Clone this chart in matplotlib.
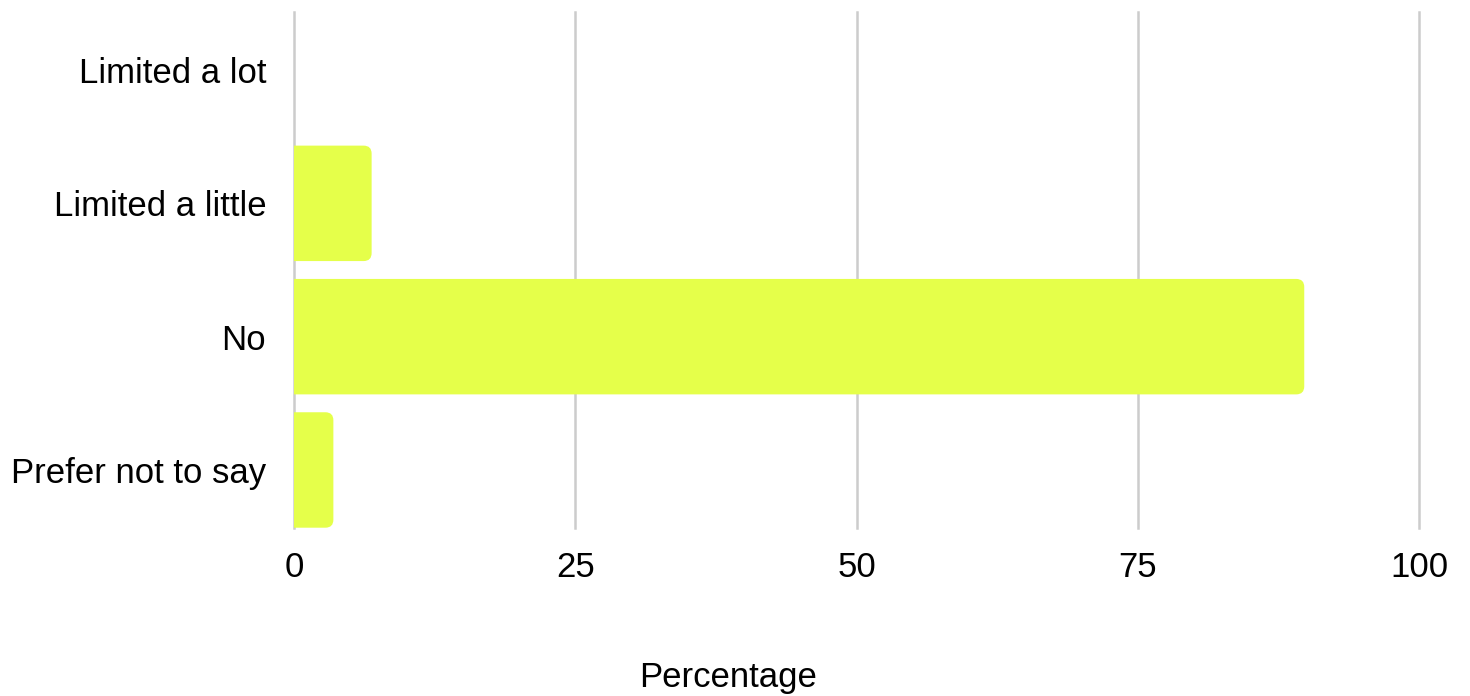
import matplotlib.pyplot as plt
from matplotlib.patches import FancyBboxPatch

plt.rcParams['font.family'] = ['Liberation Sans', 'DejaVu Sans']

categories = ['Limited a lot', 'Limited a little', 'No', 'Prefer not to say']
values = [0, 6.9, 89.8, 3.5]
ticks = [0, 25, 50, 75, 100]

bar_color = '#e5ff4a'
h = 0.866

fig = plt.figure(figsize=(14.7, 6.96), dpi=100)
ax = fig.add_axes([294/1470, 1-527.7/696, 1125/1470, (527.7-12.3)/696])

ax.set_xlim(0, 100)
ax.set_ylim(len(categories)-1 + h/2, -h/2)

# px per unit, for rounded corners
px_x = 1125/100
px_y = (527.7-12.3)/(len(categories)-1 + h)
r = 8/px_x
for i, v in enumerate(values):
    if v <= 0:
        continue
    # start a bit left of 0 so the left corners get clipped off by the axes
    p = FancyBboxPatch((-2*r, i - h/2), v + 2*r, h,
                       boxstyle='round,pad=0,rounding_size=%f' % r,
                       mutation_aspect=px_x/px_y,
                       fc=bar_color, ec='none', zorder=2)
    ax.add_patch(p)

ax.set_xticks(ticks)
ax.set_xticklabels([str(t) for t in ticks])
ax.set_yticks(range(len(categories)))
ax.set_yticklabels(categories)
ax.grid(axis='x', color='#cccccc', lw=1.8, zorder=0)
for gl in ax.get_xgridlines():
    gl.set_clip_on(False)
ax.set_axisbelow(True)
for s in ax.spines.values():
    s.set_visible(False)
ax.tick_params(length=0, labelsize=25, colors='#000000')
ax.tick_params(axis='x', pad=17)
ax.tick_params(axis='y', pad=20)
ax.set_xlabel('Percentage', fontsize=25, color='#000000', labelpad=57)
ax.xaxis.set_label_coords((728-294)/1125, -(678-527.7)/(527.7-12.3))
ax.xaxis.label.set_va('center')

fig.savefig('out.png', dpi=100)
